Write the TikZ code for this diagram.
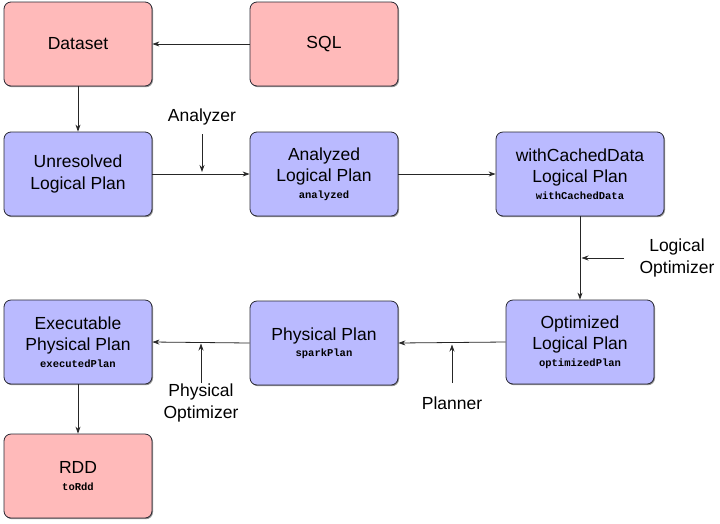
\documentclass[tikz,border=0pt]{standalone}
\usepackage{fontspec}
\setmainfont{Liberation Sans}
\newfontfamily\codefont{Liberation Mono}
\usetikzlibrary{arrows.meta,shadows}
\definecolor{pinkfill}{RGB}{255,186,186}
\definecolor{bluefill}{RGB}{186,186,255}
\definecolor{boxline}{RGB}{40,40,50}
\tikzset{
  plan/.style={draw=boxline, line width=0.8pt, rounded corners=7pt, minimum width=148pt, minimum height=84pt, inner sep=2pt, align=center, font=\fontsize{17.5}{21.5}\selectfont, drop shadow={shadow xshift=1pt, shadow yshift=-1.2pt, opacity=0.6, fill=black!70}},
  pinkbox/.style={plan, fill=pinkfill},
  bluebox/.style={plan, fill=bluefill},
  conn/.style={draw=black!85, line width=0.8pt, -{Stealth[length=7pt,width=5pt]}},
  lbl/.style={align=center, font=\fontsize{17.5}{22}\selectfont, inner sep=0pt}
}
\newcommand{\codetxt}[1]{{\codefont\bfseries\fontsize{10.5}{11}\selectfont #1}}
\begin{document}
\begin{tikzpicture}[x=1pt,y=-1pt]
\useasboundingbox (0,0) rectangle (720,523);
\node[pinkbox] (dataset) at (78,44) {Dataset};
\node[pinkbox] (sql) at (324,44) {SQL};
\node[bluebox] (unres) at (78,174) {Unresolved\\Logical Plan};
\node[bluebox] (analyzed) at (324,174) {Analyzed\\Logical Plan\\[-5pt]\codetxt{analyzed}};
\node[bluebox, minimum width=168pt] (cached) at (580,174) {withCachedData\\Logical Plan\\[-5pt]\codetxt{withCachedData}};
\node[bluebox] (optimized) at (580,342) {Optimized\\Logical Plan\\[-5pt]\codetxt{optimizedPlan}};
\node[bluebox] (physical) at (324,343) {Physical Plan\\[-5pt]\codetxt{sparkPlan}};
\node[bluebox] (exec) at (78,342) {Executable\\Physical Plan\\[-5pt]\codetxt{executedPlan}};
\node[pinkbox] (rdd) at (78,476) {RDD\\[-5pt]\codetxt{toRdd}};

\draw[conn] (sql) -- (dataset);
\draw[conn] (dataset) -- (unres);
\draw[conn] (unres) -- (analyzed);
\draw[conn] (analyzed) -- (cached);
\draw[conn] (cached) -- (optimized);
\draw[conn] (optimized.west) -- (physical.east);
\draw[conn] (physical.west) -- (exec.east);
\draw[conn] (exec) -- (rdd);

\node[lbl] (analyzer) at (202,117) {Analyzer};
\coordinate (analyzerA) at (202,134);
\coordinate (analyzerB) at (202,172);
\draw[conn] (analyzerA) -- (analyzerB);

\node[lbl] (logopt) at (677,258) {Logical\\Optimizer};
\coordinate (logoptA) at (624,258);
\coordinate (logoptB) at (581.5,258);
\draw[conn] (logoptA) -- (logoptB);

\node[lbl] (planner) at (452,403) {Planner};
\coordinate (plannerA) at (452,383);
\coordinate (plannerB) at (452,344.5);
\draw[conn] (plannerA) -- (plannerB);

\node[lbl] (physopt) at (201,403) {Physical\\Optimizer};
\coordinate (physoptA) at (201,383);
\coordinate (physoptB) at (201,343.5);
\draw[conn] (physoptA) -- (physoptB);
\end{tikzpicture}
\end{document}
